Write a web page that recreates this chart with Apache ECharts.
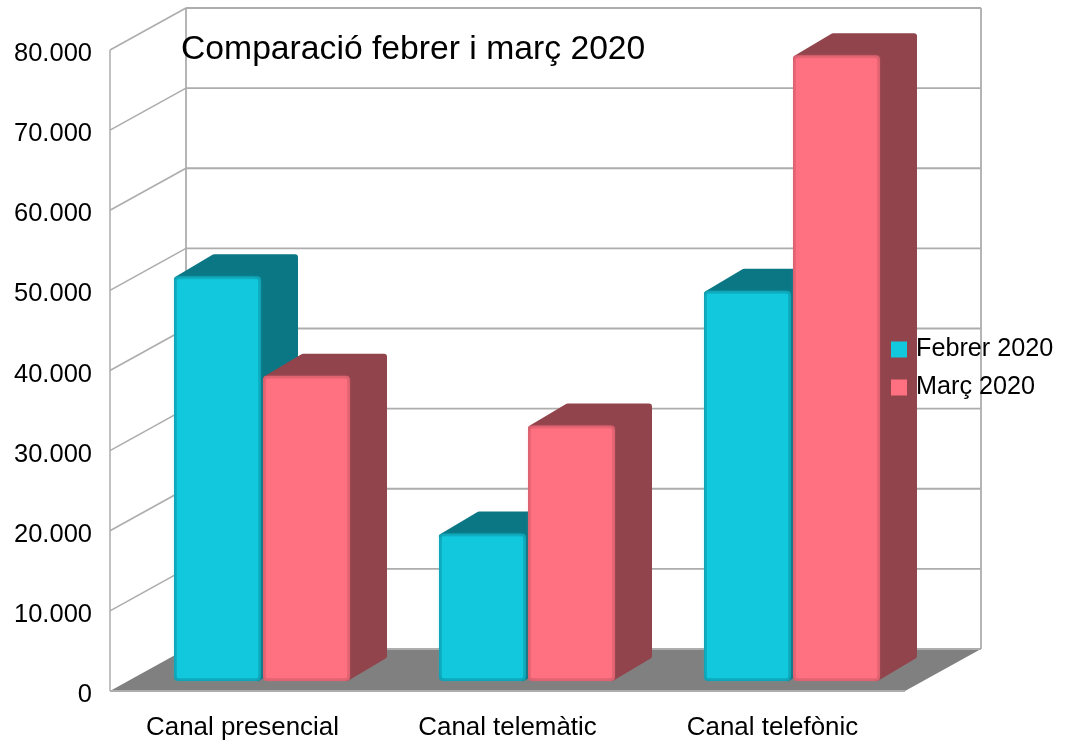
<!DOCTYPE html>
<html>
<head>
<meta charset="utf-8">
<style>
  html, body { margin: 0; padding: 0; background: #fff; }
  #chart { width: 1073px; height: 747px; }
</style>
<script src="https://cdn.jsdelivr.net/npm/echarts@6/dist/echarts.min.js"></script>
</head>
<body>
<div id="chart"></div>
<script>
const categories = ['Canal presencial', 'Canal telemàtic', 'Canal telefònic'];
const febrer = [50500, 18400, 48700];
const marc = [38100, 31900, 78100];
const yTicks = [0, 10000, 20000, 30000, 40000, 50000, 60000, 70000, 80000];

// fake 3D: how far the back wall and the bars sit from the front plane
const WALL_DX = 76, WALL_DY = -42;
const BAR_DX = 19.5, BAR_DY = -10;
const SIDE_DX = 37, SIDE_DY = -22;
const BAR_W = 87;
const GRID_COLOR = '#adadad';

const chart = echarts.init(document.getElementById('chart'), null, { renderer: 'canvas' });

function renderWall(params, api) {
  const cs = params.coordSys;
  const y = api.coord([0, api.value(0)])[1];
  const x0 = cs.x, x1 = cs.x + cs.width;
  const line = (a, b, c, d, w) => ({
    type: 'line', shape: { x1: a, y1: b, x2: c, y2: d },
    style: { stroke: GRID_COLOR, lineWidth: w },
  });
  const children = [];
  if (params.dataIndex === 0) {
    children.push({
      type: 'polygon',
      shape: { points: [[x0, y], [x0 + WALL_DX, y + WALL_DY], [x1 + WALL_DX, y + WALL_DY], [x1, y]] },
      style: { fill: '#808080' },
    });
    const top = cs.y;
    children.push(line(x0 + WALL_DX, top + WALL_DY, x0 + WALL_DX, y + WALL_DY, 1.8));
    children.push(line(x1 + WALL_DX, top + WALL_DY, x1 + WALL_DX, y + WALL_DY, 1.8));
    children.push(line(x0, top, x0, y, 1.5));
    children.push(line(x0, y, x1, y, 1.8));
  }
  children.push(line(x0 + WALL_DX, y + WALL_DY, x1 + WALL_DX, y + WALL_DY, 1.8));
  if (params.dataIndex > 0) children.push(line(x0, y, x0 + WALL_DX, y + WALL_DY, 1.6));
  return { type: 'group', children };
}

function barRenderer(side, face, rim, dark) {
  return function (params, api) {
    const top = api.coord([api.value(0), api.value(1)]);
    const base = api.coord([api.value(0), 0]);
    const left = top[0] + BAR_DX + (side < 0 ? -BAR_W - 1 : 1);
    const right = left + BAR_W;
    const yTop = top[1] + BAR_DY, yBase = base[1] + BAR_DY;
    const inset = 3;
    return {
      type: 'group',
      children: [
        {
          type: 'polygon',
          shape: {
            points: [
              [left + inset, yTop + inset],
              [left + SIDE_DX + inset, yTop + SIDE_DY + inset],
              [right + SIDE_DX - inset, yTop + SIDE_DY + inset],
              [right + SIDE_DX - inset, yBase + SIDE_DY - inset],
              [right - inset, yBase - inset],
            ],
          },
          style: { fill: dark, stroke: dark, lineWidth: 6, lineJoin: 'round' },
        },
        {
          type: 'rect',
          shape: { x: left, y: yTop, width: BAR_W, height: yBase - yTop, r: 4 },
          style: { fill: rim },
        },
        {
          type: 'rect',
          shape: { x: left + 3, y: yTop + 3, width: BAR_W - 6, height: yBase - yTop - 6, r: 1 },
          style: { fill: face, shadowBlur: 5, shadowColor: face },
        },
      ],
    };
  };
}

chart.setOption({
  animation: false,
  backgroundColor: '#fff',
  textStyle: { fontFamily: 'Liberation Sans' },
  title: {
    text: 'Comparació febrer i març 2020',
    left: 176, top: 28,
    textStyle: { color: '#000', fontSize: 33.7, fontWeight: 'normal', fontFamily: 'Liberation Sans' },
  },
  legend: {
    data: ['Febrer 2020', 'Març 2020'],
    orient: 'vertical', left: 886, top: 332,
    icon: 'rect', itemWidth: 16, itemHeight: 16, itemGap: 13,
    selectedMode: false,
    textStyle: { color: '#000', fontSize: 25.2, fontFamily: 'Liberation Sans', padding: [0, 0, 0, 4] },
  },
  grid: { left: 110, top: 50, width: 795, height: 641 },
  xAxis: {
    type: 'category', data: categories,
    axisLine: { show: false }, axisTick: { show: false },
    axisLabel: { color: '#000', fontSize: 25.9, margin: 24, fontFamily: 'Liberation Sans' },
  },
  yAxis: {
    type: 'value', min: 0, max: 80000, interval: 10000,
    axisLine: { show: false }, axisTick: { show: false }, splitLine: { show: false },
    axisLabel: {
      color: '#000', fontSize: 25.5, margin: 18, fontFamily: 'Liberation Sans',
      verticalAlign: 'top', lineHeight: 8,
      formatter: v => String(v).replace(/000$/, '.000'),
    },
  },
  series: [
    {
      type: 'custom', name: 'wall', clip: false, silent: true,
      data: yTicks.map(v => [v]),
      encode: { y: 0 },
      renderItem: renderWall,
    },
    {
      type: 'custom', name: 'Febrer 2020', clip: false,
      itemStyle: { color: '#12c8dd' },
      data: febrer.map((v, i) => [i, v]),
      encode: { x: 0, y: 1 },
      renderItem: barRenderer(-1, '#12c8dd', '#0f9fb0', '#0b7785'),
    },
    {
      type: 'custom', name: 'Març 2020', clip: false,
      itemStyle: { color: '#ff7080' },
      data: marc.map((v, i) => [i, v]),
      encode: { x: 0, y: 1 },
      renderItem: barRenderer(1, '#ff7080', '#d8606e', '#92444c'),
    },
  ],
});
</script>
</body>
</html>
